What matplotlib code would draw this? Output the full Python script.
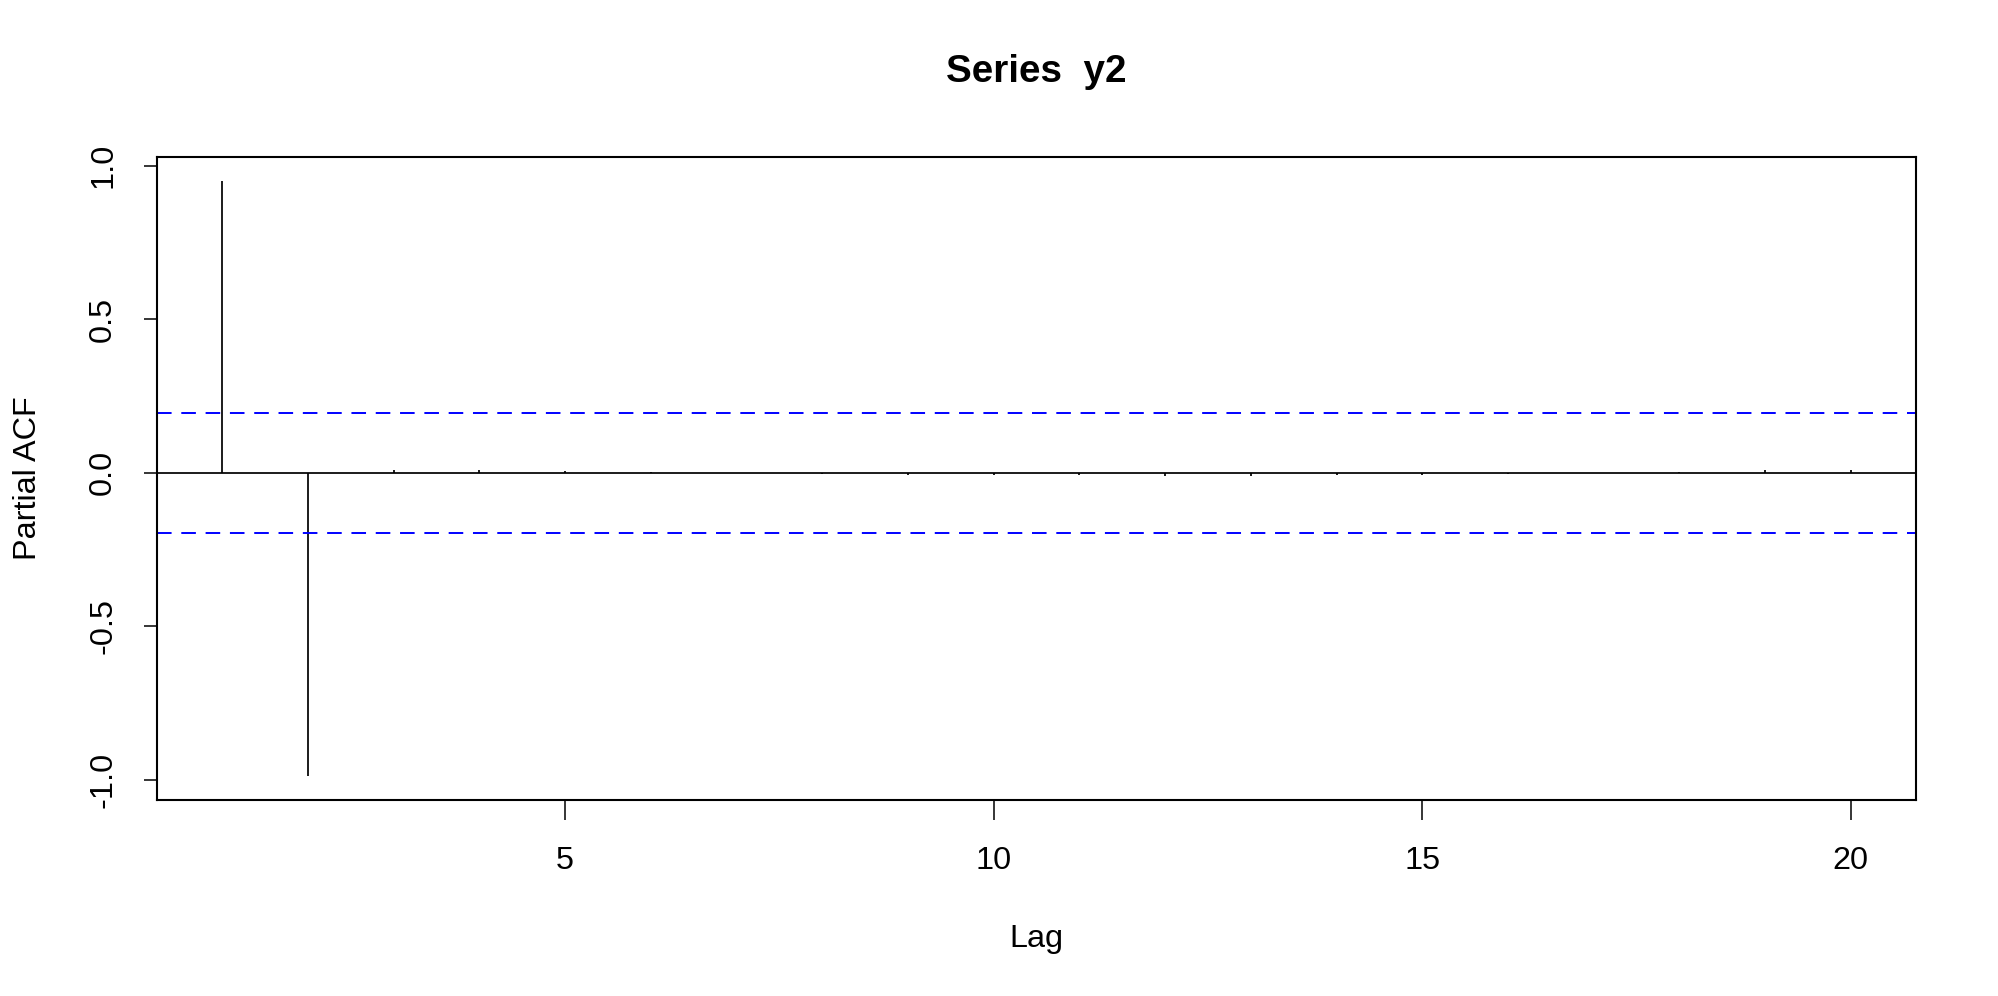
import matplotlib
matplotlib.use("Agg")
import matplotlib.pyplot as plt
import numpy as np

plt.rcParams['font.family'] = ['Liberation Sans', 'DejaVu Sans']

# Data: partial autocorrelations by lag
lags = list(range(1, 21))
pacf_values = [0.950, -0.988, 0.010, 0.009, 0.005, 0.003, 0.000, -0.005,
               -0.008, -0.008, -0.008, -0.010, -0.010, -0.008, -0.006,
               -0.005, 0.000, 0.003, 0.008, 0.010]
conf_limit = 0.196
x_ticks = [5, 10, 15, 20]
y_ticks = [-1.0, -0.5, 0.0, 0.5, 1.0]
title = "Series  y2"

W, H = 1998, 996
fig = plt.figure(figsize=(W / 100, H / 100), dpi=100)
L, R, T, B = 157, 1916, 157, 800
ax = fig.add_axes([L / W, 1 - B / H, (R - L) / W, (B - T) / H])

ax.vlines(lags, 0, pacf_values, colors='black', linewidth=1.25)
ax.axhline(0, color='black', linewidth=1.25)
for c in (conf_limit, -conf_limit):
    ax.axhline(c, color='#0000FF', linewidth=1.4, linestyle=(0, (7.5, 5)))

ax.set_xlim(0.24, 20.76)
ax.set_ylim(-1.0652, 1.0282)

for s in ax.spines.values():
    s.set_linewidth(1.5)
    s.set_color('black')

fs = 23.3
ax.set_xticks(x_ticks)
ax.set_xticklabels([str(v) for v in x_ticks], fontsize=fs)
ax.set_yticks(y_ticks)
ax.set_yticklabels([f"{v:.1f}" for v in y_ticks], fontsize=fs, rotation=90,
                   va='center')
ax.tick_params(axis='x', length=14.4, width=1.1, pad=19, direction='out')
ax.tick_params(axis='y', length=9.5, width=1.1, pad=18.5, direction='out')

fig.text((L + R) / 2 / W, 1 - 947 / H, "Lag", fontsize=fs, ha='center',
         va='baseline')
fig.text(28 / W, 1 - ((T + B) / 2) / H, "Partial ACF", fontsize=fs,
         ha='center', va='center', rotation=90)
fig.text((L + R) / 2 / W, 1 - 82 / H, title, fontsize=27.8, fontweight='bold',
         ha='center', va='baseline')

fig.savefig("out.png", dpi=100, facecolor='white')
